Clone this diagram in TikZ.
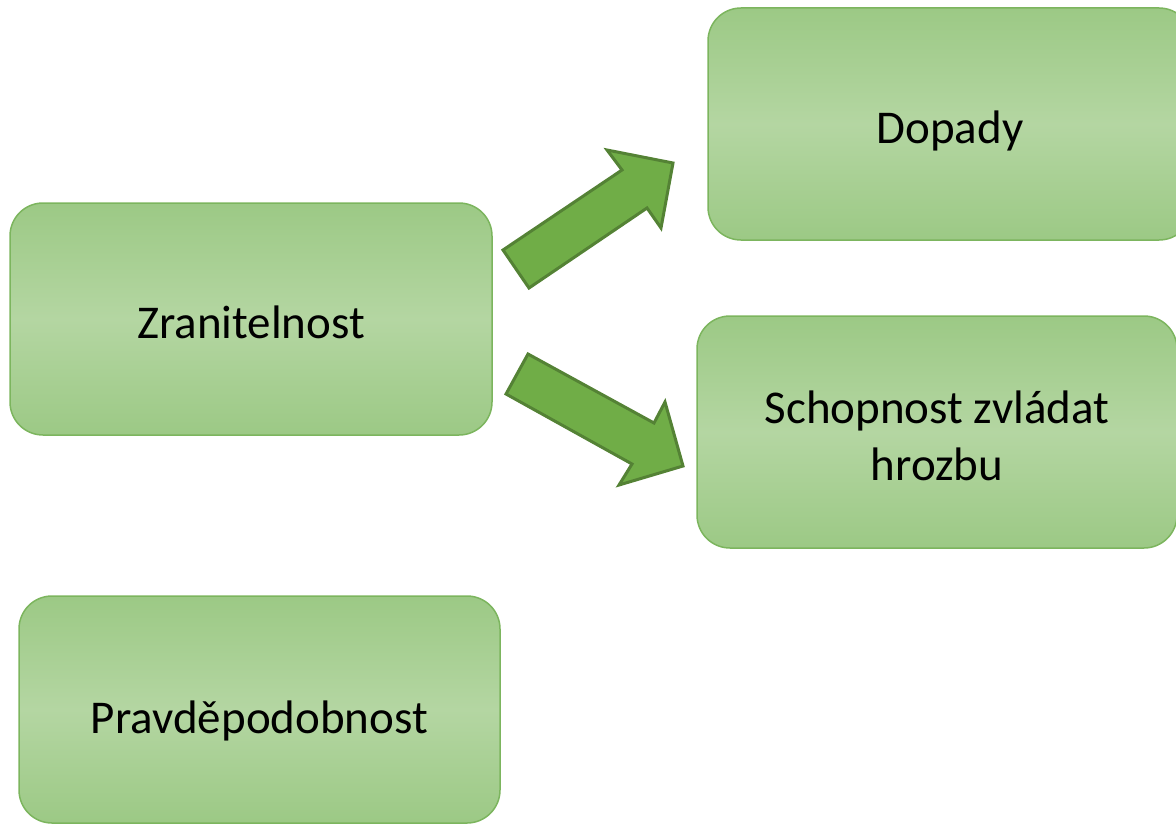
\documentclass[tikz,border=0pt]{standalone}
\usepackage{fontspec}
\setmainfont{Carlito}
\usetikzlibrary{positioning}
\definecolor{boxtop}{HTML}{9CC985}
\definecolor{boxmid}{HTML}{B4D6A2}
\definecolor{boxline}{HTML}{7CB55E}
\definecolor{arrowfill}{HTML}{70AD47}
\definecolor{arrowline}{HTML}{548235}

\tikzset{
    factor/.style={rectangle, rounded corners=16.5pt, draw=boxline, line width=0.75pt,
        top color=boxtop, bottom color=boxtop, middle color=boxmid,
        minimum width=240pt, minimum height=116pt, align=center,
        text height=19pt, text depth=0pt,
        font=\fontsize{23.5}{28.5}\selectfont},
    blockarrow/.style={fill=arrowfill, draw=arrowline, line width=1.5pt, line join=miter}
}

\begin{document}
\begin{tikzpicture}[x=0.5pt, y=-0.5pt]
    \useasboundingbox (0,0) rectangle (1176,824);
    % boxes
    \node[factor, minimum width=241pt] (zran) at (251,319) {Zranitelnost};
    \node[factor, minimum width=242pt] (dopady) at (950,124) {Dopady};
    \node[factor, minimum width=240pt, text height=48pt] (schop) at (937,432) {Schopnost zvládat\\hrozbu};
    \node[factor, minimum width=240.5pt, minimum height=113.5pt, text height=23.5pt] (pravd) at (259.5,709.5) {Pravděpodobnost};
    % block arrows
    \draw[blockarrow] (503,250) -- (622,170) -- (607,150) -- (673,163)
        -- (661,228) -- (647,208) -- (529,288) -- cycle;
    \draw[blockarrow] (528,354) -- (654,423) -- (665,402) -- (683,466)
        -- (619,485) -- (632,464) -- (506,394) -- cycle;
\end{tikzpicture}
\end{document}
